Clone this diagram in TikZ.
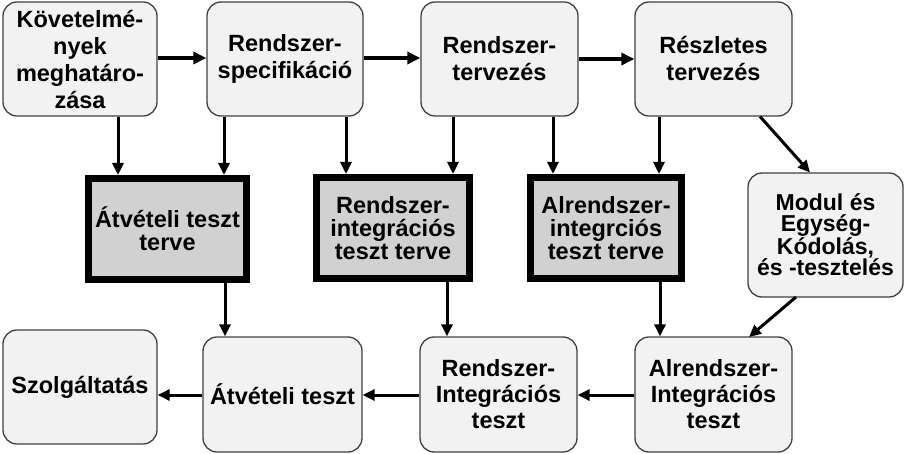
\documentclass[tikz,border=0pt]{standalone}
\usepackage{fontspec}
\setmainfont{Liberation Sans}[Ligatures={NoCommon}]
\usetikzlibrary{arrows.meta}
\begin{document}
\begin{tikzpicture}[x=1pt,y=-1pt,
  rbox/.style={draw=black!75, line width=1.3pt, fill=black!5, rounded corners=14pt,
    align=center, inner sep=0pt, font=\fontsize{23.5}{27}\selectfont\bfseries},
  gbox/.style={draw=black, line width=7pt, fill=black!18, align=center, inner sep=0pt,
    minimum height=101pt, font=\fontsize{23.5}{23}\selectfont\bfseries},
  arr/.style={line width=3pt, -{Triangle[length=12pt,width=11pt]}},
  harr/.style={line width=4pt, -{Triangle[length=13pt,width=12pt]}}]
\useasboundingbox (0,0) rectangle (907,454);
% top row
\node[rbox, minimum width=154pt, minimum height=114pt] (req) at (80,59) {Követelmé-\\nyek\\meghatáro-\\zása};
\node[rbox, minimum width=156pt, minimum height=114pt] (spec) at (285,59) {Rendszer-\\specifikáció};
\node[rbox, minimum width=157pt, minimum height=114pt] (design) at (499.5,59) {Rendszer-\\tervezés};
\node[rbox, minimum width=157pt, minimum height=114pt] (detail) at (713.5,59) {Részletes\\tervezés};
% middle row
\node[gbox, minimum width=158pt] (atp) at (167.5,229) {Átvételi teszt\\terve};
\node[gbox, minimum width=153pt] (sitp) at (393,228) {Rendszer-\\integrációs\\teszt terve};
\node[gbox, minimum width=151pt] (ssitp) at (606,228) {Alrendszer-\\integrciós\\teszt terve};
\node[rbox, minimum width=155pt, minimum height=124pt, font=\fontsize{23}{21}\selectfont\bfseries] (modul) at (825.5,235) {Modul és\\Egység-\\Kódolás,\\és -tesztelés};
% bottom row
\node[rbox, minimum width=154pt, minimum height=114pt] (serv) at (80,387) {Szolgáltatás};
\node[rbox, minimum width=159pt, minimum height=115pt, font=\fontsize{23.5}{26}\selectfont\bfseries] (at) at (282.5,394.5) {Átvételi teszt};
\node[rbox, minimum width=157pt, minimum height=115pt, font=\fontsize{23.5}{26}\selectfont\bfseries] (sit) at (498.5,394.5) {Rendszer-\\Integrációs\\teszt};
\node[rbox, minimum width=157pt, minimum height=115pt, font=\fontsize{23.5}{26}\selectfont\bfseries] (ssit) at (713.5,394.5) {Alrendszer-\\Integrációs\\teszt};
% top horizontal arrows
\draw[harr] (req.east |- 0,58) -- (spec.west |- 0,58);
\draw[harr] (spec.east |- 0,58) -- (design.west |- 0,58);
\draw[harr] (design.east |- 0,59) -- (detail.west |- 0,59);
% down to plans
\draw[arr] (req.south -| 118,0) -- (atp.north -| 118,0);
\draw[arr] (spec.south -| 224,0) -- (atp.north -| 224,0);
\draw[arr] (spec.south -| 346,0) -- (sitp.north -| 346,0);
\draw[arr] (design.south -| 453,0) -- (sitp.north -| 453,0);
\draw[arr] (design.south -| 553,0) -- (ssitp.north -| 553,0);
\draw[arr] (detail.south -| 659,0) -- (ssitp.north -| 659,0);
% plans to tests
\draw[arr] (atp.south -| 225,0) -- (at.north -| 225,0);
\draw[arr] (sitp.south -| 447,0) -- (sit.north -| 447,0);
\draw[arr] (ssitp.south -| 660,0) -- (ssit.north -| 660,0);
% diagonals
\coordinate (d1) at (760,116.5);
\coordinate (d2) at (810,172.5);
\draw[arr] (d1) -- (d2);
\coordinate (d3) at (796,297);
\coordinate (d4) at (749,337);
\draw[arr] (d3) -- (d4);
% bottom horizontal arrows
\draw[arr] (ssit.west |- 0,395) -- (sit.east |- 0,395);
\draw[arr] (sit.west |- 0,395) -- (at.east |- 0,395);
\draw[arr] (at.west |- 0,395) -- (serv.east |- 0,395);
\end{tikzpicture}
\end{document}
